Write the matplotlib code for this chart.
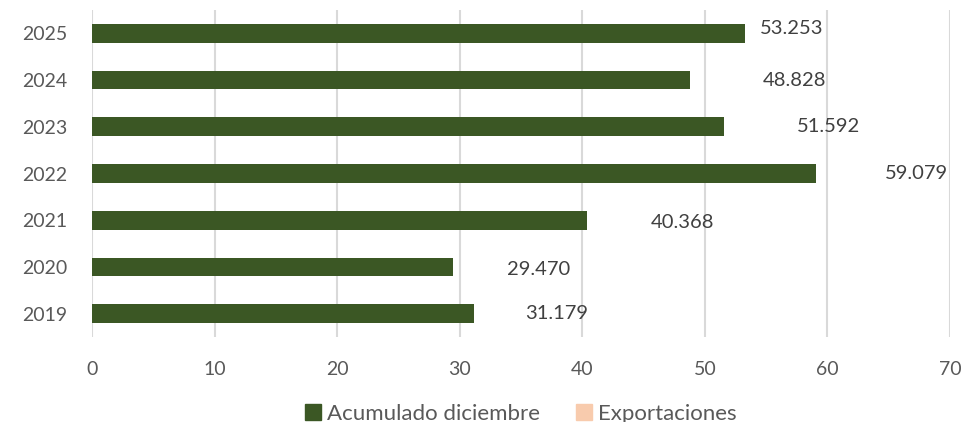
import matplotlib
matplotlib.use("Agg")
import matplotlib.pyplot as plt
from matplotlib.patches import Patch

# --- data (thousands) -------------------------------------------------------
years = ["2019", "2020", "2021", "2022", "2023", "2024", "2025"]
acumulado = [31.179, 29.470, 40.368, 59.079, 51.592, 48.828, 53.253]
value_labels = ["31.179", "29.470", "40.368", "59.079", "51.592", "48.828", "53.253"]
x_ticks = [0, 10, 20, 30, 40, 50, 60, 70]

# label placement (data units past bar end, as in the source chart)
label_shift = [6.7, 7.0, 7.8, 8.2, 8.5, 8.5, 3.85]
label_lift = [0.0, -0.05, -0.05, 0.0, 0.0, 0.0, 0.1]

BAR_COLOR = "#3B5724"
EXPO_COLOR = "#F8CBAD"
GRID_COLOR = "#D9D9D9"
TICK_COLOR = "#595959"
LABEL_COLOR = "#404040"

plt.rcParams["font.family"] = ["Lato", "DejaVu Sans"]

fig = plt.figure(figsize=(9.63, 4.22), dpi=100)
ax = fig.add_axes([92 / 963, 1 - 337 / 422, (950 - 92) / 963, (337 - 10) / 422])

ypos = range(len(years))
ax.barh(ypos, acumulado, height=0.4, color=BAR_COLOR, zorder=3)

for i, (v, lab) in enumerate(zip(acumulado, value_labels)):
    ax.text(v + label_shift[i], i + label_lift[i], lab, ha="center", va="center",
            fontsize=14.5, color=LABEL_COLOR, zorder=4)

ax.set_xlim(0, 70)
ax.set_ylim(-0.5, len(years) - 0.5)
ax.set_xticks(x_ticks)
ax.set_yticks(list(ypos))
ax.set_yticklabels(years)
ax.grid(axis="x", color=GRID_COLOR, linewidth=1.5, zorder=0)
ax.tick_params(axis="both", length=0, labelsize=14, colors=TICK_COLOR)
ax.tick_params(axis="x", pad=17)
ax.tick_params(axis="y", pad=18)
for s in ax.spines.values():
    s.set_visible(False)

handles = [Patch(color=BAR_COLOR, label="Acumulado diciembre"),
           Patch(color=EXPO_COLOR, label="Exportaciones")]
leg = fig.legend(handles=handles, loc="center", ncol=2, frameon=False,
                 bbox_to_anchor=(521 / 963, 0.02), fontsize=16,
                 handlelength=0.7, handleheight=0.7, handletextpad=0.3,
                 columnspacing=1.6)
for t in leg.get_texts():
    t.set_color(TICK_COLOR)

fig.savefig("out.png", dpi=100, facecolor="white")
